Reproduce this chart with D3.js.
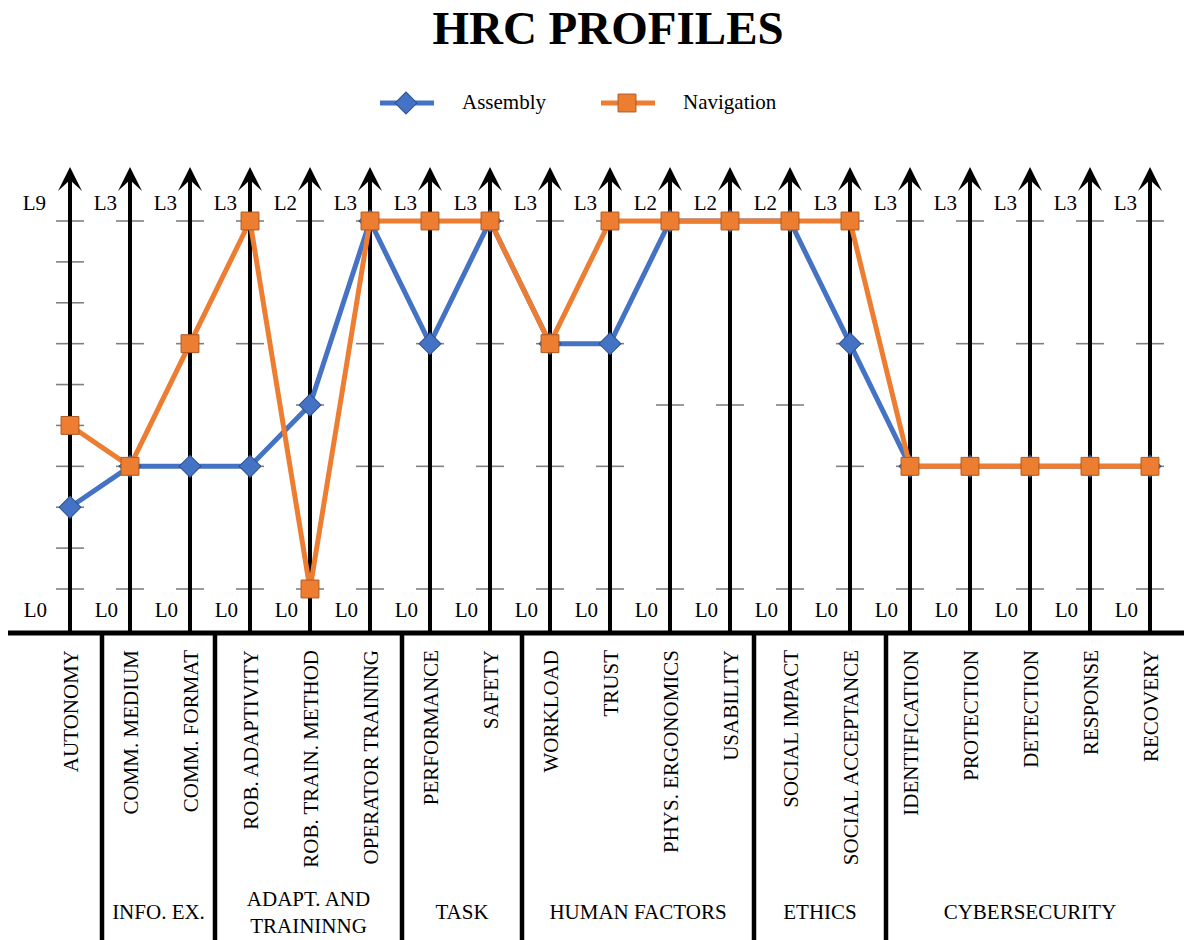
<!DOCTYPE html>
<html>
<head>
<meta charset="utf-8">
<script src="https://cdn.jsdelivr.net/npm/d3@7"></script>
<style>
  body { margin: 0; background: #fff; }
</style>
</head>
<body>
<div id="container"></div>
<script>
// categories (one axis each), the number of levels of each axis
var categories = ['AUTONOMY', 'COMM. MEDIUM', 'COMM. FORMAT', 'ROB. ADAPTIVITY', 'ROB. TRAIN. METHOD',
                  'OPERATOR TRAINING', 'PERFORMANCE', 'SAFETY', 'WORKLOAD', 'TRUST', 'PHYS. ERGONOMICS',
                  'USABILITY', 'SOCIAL IMPACT', 'SOCIAL ACCEPTANCE', 'IDENTIFICATION', 'PROTECTION',
                  'DETECTION', 'RESPONSE', 'RECOVERY'];
var maxLevels = [9, 3, 3, 3, 2, 3, 3, 3, 3, 3, 2, 2, 2, 3, 3, 3, 3, 3, 3];

// level reached by each profile on each axis
var assembly   = [2, 1, 1, 1, 1, 3, 2, 3, 2, 2, 2, 2, 2, 2, 1, 1, 1, 1, 1];
var navigation = [4, 1, 2, 3, 0, 3, 3, 3, 2, 3, 2, 2, 2, 3, 1, 1, 1, 1, 1];

// groups of axes along the bottom
var groupNames = ['', 'INFO. EX.', 'ADAPT. AND\nTRAININNG', 'TASK', 'HUMAN FACTORS', 'ETHICS', 'CYBERSECURITY'];
var groupSizes = [1, 2, 3, 2, 4, 2, 5];

var WIDTH = 1184,
    HEIGHT = 940,
    BASE_Y = 633,
    BLUE = '#4472C4',
    ORANGE = '#ED7D31',
    FONT = '"Liberation Serif", "Times New Roman", Times, serif',
    FS = '21px';

var svg = d3.select('#container').append('svg')
    .attr('width', WIDTH)
    .attr('height', HEIGHT)
    .attr('font-family', FONT)
    .style('font-family', FONT);

var x = d3.scalePoint().domain(categories).range([70, 1150]);
var y = d3.scaleLinear().domain([0, 1]).range([589, 221]);
var step = x.step();

// title
svg.append('text')
    .attr('x', 608)
    .attr('y', 44)
    .attr('text-anchor', 'middle')
    .style('font-size', '47px')
    .style('font-weight', 'bold')
    .text('HRC PROFILES');

// ticks on every axis, one per level
categories.forEach(function(c, i) {
  var cx = x(c);
  svg.append('g').selectAll('line')
    .data(d3.range(maxLevels[i] + 1))
    .enter()
    .append('line')
      .attr('x1', cx - 14)
      .attr('x2', cx + 14)
      .attr('y1', function(d) { return y(d / maxLevels[i]); })
      .attr('y2', function(d) { return y(d / maxLevels[i]); })
      .attr('stroke', '#808080')
      .attr('stroke-width', 1.6);
});

// axes with arrow heads
var axes = svg.append('g').selectAll('g')
    .data(categories)
    .enter()
    .append('g');
axes.append('line')
    .attr('x1', function(d) { return x(d); })
    .attr('x2', function(d) { return x(d); })
    .attr('y1', BASE_Y)
    .attr('y2', 180)
    .attr('stroke', '#000')
    .attr('stroke-width', 4);
axes.append('path')
    .attr('d', function(d) {
      var cx = x(d);
      return 'M' + cx + ',167L' + (cx + 12) + ',191L' + cx + ',180L' + (cx - 12) + ',191Z';
    })
    .attr('fill', '#000');

// level labels at top and bottom
axes.append('text')
    .attr('x', function(d, i) { return x(d) - (i === 0 ? 24 : 13); })
    .attr('y', 210)
    .attr('text-anchor', 'end')
    .style('font-size', FS)
    .text(function(d, i) { return 'L' + maxLevels[i]; });
axes.append('text')
    .attr('x', function(d, i) { return x(d) - (i === 0 ? 23 : 12); })
    .attr('y', 617)
    .attr('text-anchor', 'end')
    .style('font-size', FS)
    .text('L0');

// the two profiles
function drawSeries(levels, color, border, symbolType, size) {
  var pts = levels.map(function(v, i) { return [x(categories[i]), y(v / maxLevels[i])]; });
  svg.append('path')
      .attr('d', d3.line()(pts))
      .attr('fill', 'none')
      .attr('stroke', color)
      .attr('stroke-width', 5)
      .attr('stroke-linejoin', 'round');
  svg.append('g').selectAll('path')
    .data(pts)
    .enter()
    .append('path')
      .attr('transform', function(d) { return 'translate(' + d[0] + ',' + d[1] + ')' + (symbolType === 'diamond' ? ' rotate(45)' : ''); })
      .attr('d', d3.symbol(d3.symbolSquare, size)())
      .attr('fill', color)
      .attr('stroke', border)
      .attr('stroke-width', 1);
}
drawSeries(assembly, BLUE, '#2F528F', 'diamond', 240);
drawSeries(navigation, ORANGE, '#AE5A21', 'square', 320);

// legend
var legend = [
  {name: 'Assembly', color: BLUE, border: '#2F528F', type: 'diamond', size: 240, x: 380},
  {name: 'Navigation', color: ORANGE, border: '#AE5A21', type: 'square', size: 320, x: 601}
];
var lg = svg.append('g').selectAll('g')
    .data(legend)
    .enter()
    .append('g');
lg.append('line')
    .attr('x1', function(d) { return d.x; })
    .attr('x2', function(d) { return d.x + 54; })
    .attr('y1', 103)
    .attr('y2', 103)
    .attr('stroke', function(d) { return d.color; })
    .attr('stroke-width', 5);
lg.append('path')
    .attr('transform', function(d) { return 'translate(' + (d.x + 26) + ',103)' + (d.type === 'diamond' ? ' rotate(45)' : ''); })
    .attr('d', function(d) { return d3.symbol(d3.symbolSquare, d.size)(); })
    .attr('fill', function(d) { return d.color; })
    .attr('stroke', function(d) { return d.border; });
lg.append('text')
    .attr('x', function(d) { return d.x + 82; })
    .attr('y', 109)
    .style('font-size', FS)
    .text(function(d) { return d.name; });

// bottom baseline
svg.append('line')
    .attr('x1', 8)
    .attr('x2', WIDTH)
    .attr('y1', BASE_Y)
    .attr('y2', BASE_Y)
    .attr('stroke', '#000')
    .attr('stroke-width', 5);

// category names, rotated
svg.append('g').selectAll('text')
    .data(categories)
    .enter()
    .append('text')
      .attr('transform', function(d) { return 'translate(' + (x(d) + 8) + ',650) rotate(-90)'; })
      .attr('text-anchor', 'end')
      .style('font-size', FS)
      .text(function(d) { return d; });

// group separators and names (separators sit a little off the midpoints)
var sepShift = [2, -5, 2, 2, -6, 6];
var start = 0;
groupNames.forEach(function(name, g) {
  var first = x(categories[start]),
      last = x(categories[start + groupSizes[g] - 1]),
      left = g === 0 ? 8 : first - step / 2 + sepShift[g - 1],
      right = g === groupNames.length - 1 ? 1174 : last + step / 2 + sepShift[g];
  if (g < groupNames.length - 1) {
    svg.append('line')
        .attr('x1', right)
        .attr('x2', right)
        .attr('y1', BASE_Y)
        .attr('y2', HEIGHT)
        .attr('stroke', '#000')
        .attr('stroke-width', 4.5);
  }
  var lines = name.split('\n');
  svg.append('text')
      .attr('x', (left + right) / 2)
      .attr('y', lines.length > 1 ? 906 : 919)
      .attr('text-anchor', 'middle')
      .style('font-size', FS)
    .selectAll('tspan')
    .data(lines)
    .enter()
    .append('tspan')
      .attr('x', (left + right) / 2)
      .attr('dy', function(d, i) { return i === 0 ? 0 : 27; })
      .text(function(d) { return d; });
  start += groupSizes[g];
});
</script>
</body>
</html>
